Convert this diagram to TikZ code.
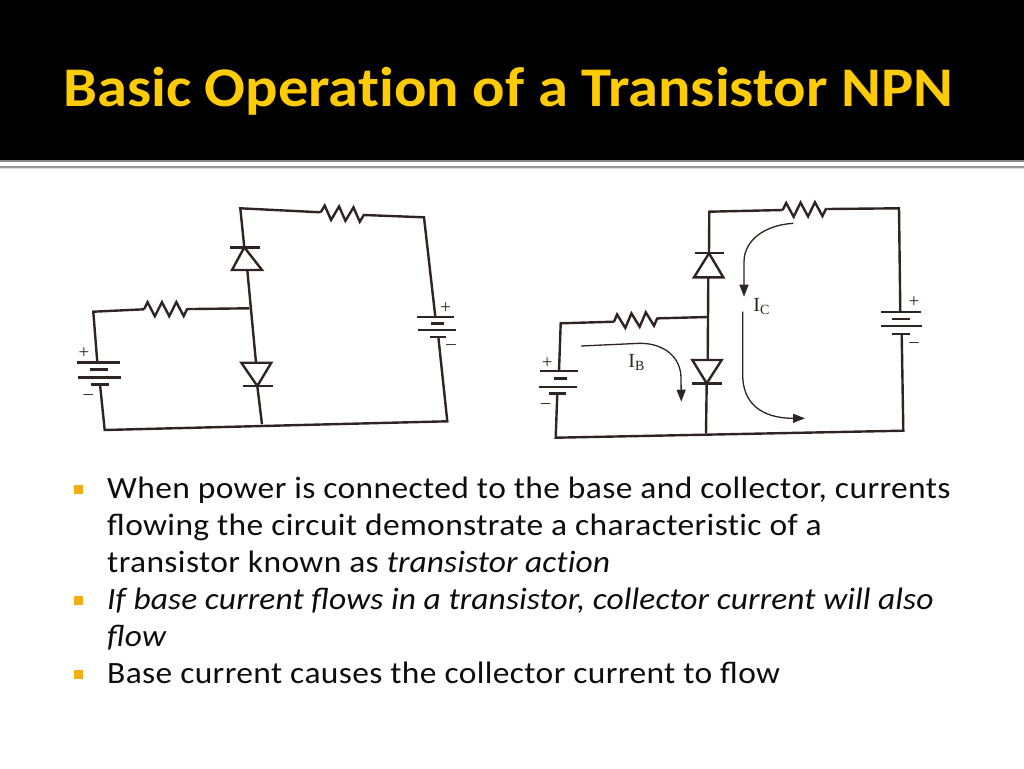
\documentclass[tikz,border=0pt]{standalone}
\usepackage{fontspec}
\setmainfont{Carlito}[Ligatures=NoCommon, FakeStretch=1.08, LetterSpace=1.2, BoldFeatures={LetterSpace=0}, ItalicFeatures={LetterSpace=0.3}]
\newfontfamily\labelfont{Liberation Serif}
\usetikzlibrary{arrows.meta}
\usetikzlibrary{decorations.pathmorphing}
\definecolor{gold}{HTML}{FFCB05}
\definecolor{bullet}{HTML}{F2AE14}
\definecolor{bodytext}{HTML}{0D0D0D}
\definecolor{ink}{HTML}{2E2422}
\tikzset{wire/.style={draw=ink, line width=2.4pt, line join=miter}}
\tikzset{res/.style={wire, decorate, decoration={zigzag, segment length=14.4pt, amplitude=7pt}}}
\tikzset{flow/.style={draw=ink, line width=1.3pt, -{Triangle[length=12pt, width=9pt]}}}
\tikzset{sign/.style={font=\labelfont\fontsize{19}{19}\selectfont, text=ink, inner sep=0pt}}
\tikzset{cur/.style={font=\labelfont\fontsize{20}{20}\selectfont, text=ink, inner sep=0pt}}
\tikzset{l/.style={anchor=base west, inner sep=0pt, text=bodytext, font=\fontsize{31}{31}\selectfont}}
\tikzset{b/.style={fill=bullet, minimum size=9pt, inner sep=0pt}}
\begin{document}
\begin{tikzpicture}[x=1pt,y=-1pt]
        \useasboundingbox (0,0) rectangle (1024,768);
        \fill [black] (0,0) rectangle (1024,160);
        \fill [black!45] (0,160) rectangle (1024,162);
        \fill [black!40] (0,166) rectangle (1024,168);
        \fill [black!15] (0,168) rectangle (1024,169);
        \node (title) [anchor=base west, inner sep=0pt, text=gold, font=\fontsize{56}{56}\selectfont\bfseries] at (63,106) {Basic Operation of a Transistor NPN};
        % left circuit
        \coordinate (A1) at (240.3,208.3);
        \coordinate (A2) at (320.7,212.3);
        \coordinate (A3) at (364,215);
        \coordinate (A4) at (424,217.3);
        \coordinate (A5) at (435.3,316.7);
        \coordinate (A6) at (438.3,336.7);
        \coordinate (A7) at (447.3,421.3);
        \coordinate (A8) at (104.7,430);
        \coordinate (A9) at (100,384.3);
        \coordinate (A10) at (97.3,362.3);
        \coordinate (A11) at (93.3,311.7);
        \coordinate (A12) at (144,309.3);
        \coordinate (A13) at (193.3,309);
        \coordinate (A14) at (249.3,308.3);
        \coordinate (A15) at (244.3,247.3);
        \coordinate (A16) at (247.3,270);
        \coordinate (A17) at (256,362.7);
        \coordinate (A18) at (257.3,386);
        \coordinate (A19) at (262,424.3);
        \draw [wire] (A15) -- (A1) -- (A2);
        \draw [res] (A2) -- (A3);
        \draw [wire] (A3) -- (A4) -- (A5);
        \draw [wire] (A6) -- (A7) -- (A8) -- (A9);
        \draw [wire] (A10) -- (A11) -- (A12);
        \draw [res] (A12) -- (A13);
        \draw [wire] (A13) -- (A14);
        \draw [wire] (A16) -- (A17);
        \draw [wire] (A18) -- (A19);
        \draw [wire] (230,247.3) -- (260,247.3);
        \draw [wire] (A15) -- (262,270) -- (232,270) -- cycle;
        \draw [wire] (241.3,362.7) -- (271.3,362.7) -- (A18) -- cycle;
        \draw [wire] (243.3,386) -- (273.3,386);
        \draw [wire] (416.7,316.7) -- (454,316.7);
        \draw [wire] (430.7,323.3) -- (444,323.3);
        \draw [wire] (418.3,330) -- (456,330);
        \draw [wire] (430,336.7) -- (446,336.7);
        \draw [wire] (77.3,362.3) -- (120,362.3);
        \draw [wire] (90,369.3) -- (108,369.3);
        \draw [wire] (78.3,377.3) -- (121,377.3);
        \draw [wire] (90.7,384.3) -- (109.3,384.3);
        \node (Ap) [sign] at (445.7,307.7) {+};
        \node (Am) [sign] at (451,346.7) {–};
        \node (Bp) [sign] at (84,353.3) {+};
        \node (Bm) [sign] at (88.3,396.7) {–};
        % right circuit
        \coordinate (C1) at (709.3,211.7);
        \coordinate (C2) at (782.7,210);
        \coordinate (C3) at (827.3,209);
        \coordinate (C4) at (899,208.3);
        \coordinate (C5) at (900.3,311.7);
        \coordinate (C6) at (901.7,334);
        \coordinate (C7) at (903.3,430.7);
        \coordinate (C8) at (555.7,437.7);
        \coordinate (C9) at (557.3,393.3);
        \coordinate (C10) at (559,371);
        \coordinate (C11) at (560.7,323.3);
        \coordinate (C12) at (614,321.7);
        \coordinate (C13) at (660,318.3);
        \coordinate (C14) at (707.3,317);
        \coordinate (C15) at (709,253.3);
        \coordinate (C16) at (708.3,277.3);
        \coordinate (C17) at (707.7,360);
        \coordinate (C18) at (706.7,383.3);
        \coordinate (C19) at (706,433.3);
        \draw [wire] (C15) -- (C1) -- (C2);
        \draw [res] (C2) -- (C3);
        \draw [wire] (C3) -- (C4) -- (C5);
        \draw [wire] (C6) -- (C7) -- (C8) -- (C9);
        \draw [wire] (C10) -- (C11) -- (C12);
        \draw [res] (C12) -- (C13);
        \draw [wire] (C13) -- (C14);
        \draw [wire] (C16) -- (C17);
        \draw [wire] (C18) -- (C19);
        \draw [wire] (695,252.7) -- (724,252.7);
        \draw [wire] (C15) -- (723.3,277.3) -- (694,277.3) -- cycle;
        \draw [wire] (692.3,360) -- (721.7,360) -- (C18) -- cycle;
        \draw [wire] (691.7,383.3) -- (721.7,383.3);
        \draw [wire] (880.7,311.7) -- (921,311.7);
        \draw [wire] (892.3,319) -- (910,319);
        \draw [wire] (881,326) -- (921.7,326);
        \draw [wire] (892.3,334) -- (910,334);
        \draw [wire] (540,371) -- (578.3,371);
        \draw [wire] (554.3,378.3) -- (566.7,378.3);
        \draw [wire] (539.3,386.7) -- (577.3,386.7);
        \draw [wire] (549.3,393.3) -- (566,393.3);
        \node (Cp) [sign] at (914,301.7) {+};
        \node (Cm) [sign] at (914,345) {–};
        \node (Dp) [sign] at (547.3,362.7) {+};
        \node (Dm) [sign] at (545.7,405.7) {–};
        % currents
        \coordinate (Ca) at (793.3,223.3);
        \coordinate (Cb) at (744,296.7);
        \coordinate (Cc) at (742.7,311.7);
        \coordinate (Cd) at (805,418.3);
        \coordinate (Ba) at (581,346);
        \coordinate (Bb) at (681.3,401.7);
        \draw [flow] (Ca) .. controls (765,225) and (744,240) .. (744,262) -- (Cb);
        \draw [flow] (Cc) -- (742.7,375) .. controls (742.7,402) and (760,418.3) .. (Cd);
        \draw [flow] (Ba) -- (640,343.3) .. controls (665,343.3) and (681,358) .. (681,378) -- (Bb);
        \node (IC) [cur] at (761.7,306.7) {I\textsubscript{C}};
        \node (IB) [cur] at (636.7,362.3) {I\textsubscript{B}};
        % text
        \node (b1) [b] at (78,489) {};
        \node (b2) [b] at (78,600) {};
        \node (b3) [b] at (78,674) {};
        \node (t1) [l] at (107,498) {When power is connected to the base and collector, currents};
        \node (t2) [l] at (107,535) {ﬂowing the circuit demonstrate a characteristic of a};
        \node (t3) [l] at (107,572) {transistor known as \textit{transistor action}};
        \node (t4) [l] at (107,609) {\textit{If base current ﬂows in a transistor, collector current will also}};
        \node (t5) [l] at (107,646) {\textit{ﬂow}};
        \node (t6) [l] at (107,683) {Base current causes the collector current to ﬂow};
      \end{tikzpicture}
\end{document}
